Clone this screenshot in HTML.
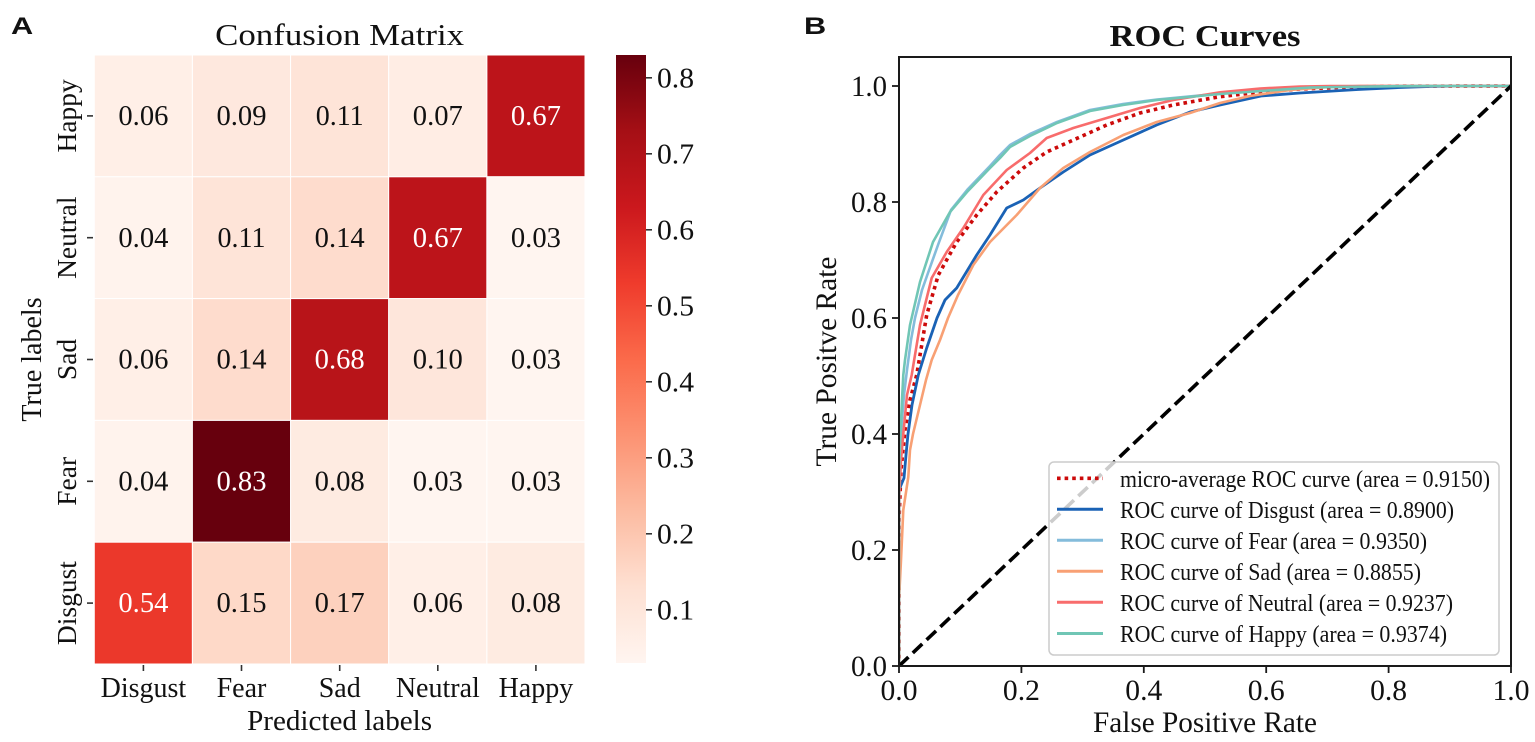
<!DOCTYPE html>
<html>
<head>
<meta charset="utf-8">
<style>
  html, body { margin: 0; padding: 0; background: #ffffff; }
  svg { display: block; }
  text { font-family: "Liberation Serif", "Times New Roman", serif; fill: #111; }
  .sans { font-family: "Liberation Sans", Arial, sans-serif; font-weight: bold; }
</style>
</head>
<body>
<svg width="1535" height="742" viewBox="0 0 1535 742" xmlns="http://www.w3.org/2000/svg">
  <defs>
    <linearGradient id="reds" x1="0" y1="0" x2="0" y2="1">
      <stop offset="0" stop-color="#67000d"/>
      <stop offset="0.125" stop-color="#a50f15"/>
      <stop offset="0.25" stop-color="#cb181d"/>
      <stop offset="0.375" stop-color="#ef3b2c"/>
      <stop offset="0.5" stop-color="#fb6a4a"/>
      <stop offset="0.625" stop-color="#fc9272"/>
      <stop offset="0.75" stop-color="#fcbba1"/>
      <stop offset="0.875" stop-color="#fee0d2"/>
      <stop offset="1" stop-color="#fff5f0"/>
    </linearGradient>
    <clipPath id="axclip"><rect x="899" y="57" width="612" height="609"/></clipPath>
  </defs>

  <rect width="1535" height="742" fill="#ffffff"/>

  <!-- ===== Panel A ===== -->
  <text class="sans" transform="translate(11,34) scale(1.28,1)" font-size="24">A</text>
  <text x="339.6" y="45" font-size="31" text-anchor="middle" textLength="249" lengthAdjust="spacingAndGlyphs">Confusion Matrix</text>

  <g stroke="#ffffff" stroke-width="1">
    <rect x="94.3" y="55" width="98.1" height="121.8" fill="#ffefe7"/>
    <rect x="192.4" y="55" width="98.2" height="121.8" fill="#fee8de"/>
    <rect x="290.6" y="55" width="98.1" height="121.8" fill="#fee4d8"/>
    <rect x="388.7" y="55" width="98.2" height="121.8" fill="#ffede4"/>
    <rect x="486.9" y="55" width="98.1" height="121.8" fill="#bc141a"/>
    <rect x="94.3" y="176.8" width="98.1" height="121.8" fill="#fff3ed"/>
    <rect x="192.4" y="176.8" width="98.2" height="121.8" fill="#fee4d8"/>
    <rect x="290.6" y="176.8" width="98.1" height="121.8" fill="#fedccd"/>
    <rect x="388.7" y="176.8" width="98.2" height="121.8" fill="#bc141a"/>
    <rect x="486.9" y="176.8" width="98.1" height="121.8" fill="#fff5f0"/>
    <rect x="94.3" y="298.6" width="98.1" height="121.8" fill="#ffefe7"/>
    <rect x="192.4" y="298.6" width="98.2" height="121.8" fill="#fedccd"/>
    <rect x="290.6" y="298.6" width="98.1" height="121.8" fill="#b81419"/>
    <rect x="388.7" y="298.6" width="98.2" height="121.8" fill="#fee6db"/>
    <rect x="486.9" y="298.6" width="98.1" height="121.8" fill="#fff5f0"/>
    <rect x="94.3" y="420.4" width="98.1" height="121.8" fill="#fff3ed"/>
    <rect x="192.4" y="420.4" width="98.2" height="121.8" fill="#67000d"/>
    <rect x="290.6" y="420.4" width="98.1" height="121.8" fill="#feebe1"/>
    <rect x="388.7" y="420.4" width="98.2" height="121.8" fill="#fff5f0"/>
    <rect x="486.9" y="420.4" width="98.1" height="121.8" fill="#fff5f0"/>
    <rect x="94.3" y="542.2" width="98.1" height="121.8" fill="#eb382b"/>
    <rect x="192.4" y="542.2" width="98.2" height="121.8" fill="#fed9c8"/>
    <rect x="290.6" y="542.2" width="98.1" height="121.8" fill="#fdd1be"/>
    <rect x="388.7" y="542.2" width="98.2" height="121.8" fill="#ffefe7"/>
    <rect x="486.9" y="542.2" width="98.1" height="121.8" fill="#feebe1"/>
  </g>

  <g font-size="28" text-anchor="middle">
    <text x="143.4" y="125" textLength="50" lengthAdjust="spacingAndGlyphs">0.06</text>
    <text x="241.5" y="125" textLength="50" lengthAdjust="spacingAndGlyphs">0.09</text>
    <text x="339.7" y="125" textLength="48" lengthAdjust="spacingAndGlyphs">0.11</text>
    <text x="437.8" y="125" textLength="50" lengthAdjust="spacingAndGlyphs">0.07</text>
    <text x="535.9" y="125" textLength="50" lengthAdjust="spacingAndGlyphs" style="fill:#ffffff">0.67</text>

    <text x="143.4" y="246.8" textLength="50" lengthAdjust="spacingAndGlyphs">0.04</text>
    <text x="241.5" y="246.8" textLength="48" lengthAdjust="spacingAndGlyphs">0.11</text>
    <text x="339.7" y="246.8" textLength="50" lengthAdjust="spacingAndGlyphs">0.14</text>
    <text x="437.8" y="246.8" textLength="50" lengthAdjust="spacingAndGlyphs" style="fill:#ffffff">0.67</text>
    <text x="535.9" y="246.8" textLength="50" lengthAdjust="spacingAndGlyphs">0.03</text>

    <text x="143.4" y="368.6" textLength="50" lengthAdjust="spacingAndGlyphs">0.06</text>
    <text x="241.5" y="368.6" textLength="50" lengthAdjust="spacingAndGlyphs">0.14</text>
    <text x="339.7" y="368.6" textLength="50" lengthAdjust="spacingAndGlyphs" style="fill:#ffffff">0.68</text>
    <text x="437.8" y="368.6" textLength="50" lengthAdjust="spacingAndGlyphs">0.10</text>
    <text x="535.9" y="368.6" textLength="50" lengthAdjust="spacingAndGlyphs">0.03</text>

    <text x="143.4" y="490.4" textLength="50" lengthAdjust="spacingAndGlyphs">0.04</text>
    <text x="241.5" y="490.4" textLength="50" lengthAdjust="spacingAndGlyphs" style="fill:#ffffff">0.83</text>
    <text x="339.7" y="490.4" textLength="50" lengthAdjust="spacingAndGlyphs">0.08</text>
    <text x="437.8" y="490.4" textLength="50" lengthAdjust="spacingAndGlyphs">0.03</text>
    <text x="535.9" y="490.4" textLength="50" lengthAdjust="spacingAndGlyphs">0.03</text>

    <text x="143.4" y="612.2" textLength="50" lengthAdjust="spacingAndGlyphs" style="fill:#ffffff">0.54</text>
    <text x="241.5" y="612.2" textLength="50" lengthAdjust="spacingAndGlyphs">0.15</text>
    <text x="339.7" y="612.2" textLength="50" lengthAdjust="spacingAndGlyphs">0.17</text>
    <text x="437.8" y="612.2" textLength="50" lengthAdjust="spacingAndGlyphs">0.06</text>
    <text x="535.9" y="612.2" textLength="50" lengthAdjust="spacingAndGlyphs">0.08</text>
  </g>

  <g stroke="#333" stroke-width="1.6">
    <line x1="87" y1="115.9" x2="93" y2="115.9"/>
    <line x1="87" y1="237.7" x2="93" y2="237.7"/>
    <line x1="87" y1="359.5" x2="93" y2="359.5"/>
    <line x1="87" y1="481.3" x2="93" y2="481.3"/>
    <line x1="87" y1="603.1" x2="93" y2="603.1"/>
    <line x1="143.4" y1="665" x2="143.4" y2="671"/>
    <line x1="241.5" y1="665" x2="241.5" y2="671"/>
    <line x1="339.7" y1="665" x2="339.7" y2="671"/>
    <line x1="437.8" y1="665" x2="437.8" y2="671"/>
    <line x1="535.9" y1="665" x2="535.9" y2="671"/>
  </g>
  <g font-size="27.5" text-anchor="middle">
    <text transform="translate(76,115.9) rotate(-90)">Happy</text>
    <text transform="translate(76,237.7) rotate(-90)">Neutral</text>
    <text transform="translate(76,359.5) rotate(-90)">Sad</text>
    <text transform="translate(76,481.3) rotate(-90)">Fear</text>
    <text transform="translate(76,603.1) rotate(-90)">Disgust</text>
  </g>
  <g font-size="28" text-anchor="middle">
    <text x="143.4" y="697">Disgust</text>
    <text x="241.5" y="697">Fear</text>
    <text x="339.7" y="697">Sad</text>
    <text x="437.8" y="697">Neutral</text>
    <text x="535.9" y="697">Happy</text>
  </g>
  <text x="339.6" y="730" font-size="28" text-anchor="middle" textLength="185" lengthAdjust="spacingAndGlyphs">Predicted labels</text>
  <text transform="translate(41,359.5) rotate(-90)" font-size="28" text-anchor="middle">True labels</text>

  <rect x="616" y="55" width="30" height="608" fill="url(#reds)"/>
  <g stroke="#333" stroke-width="1.6">
    <line x1="646" y1="77.8" x2="652" y2="77.8"/>
    <line x1="646" y1="153.8" x2="652" y2="153.8"/>
    <line x1="646" y1="229.8" x2="652" y2="229.8"/>
    <line x1="646" y1="305.8" x2="652" y2="305.8"/>
    <line x1="646" y1="381.8" x2="652" y2="381.8"/>
    <line x1="646" y1="457.8" x2="652" y2="457.8"/>
    <line x1="646" y1="533.8" x2="652" y2="533.8"/>
    <line x1="646" y1="609.8" x2="652" y2="609.8"/>
  </g>
  <g font-size="28">
    <text x="657" y="87.6" textLength="37" lengthAdjust="spacingAndGlyphs">0.8</text>
    <text x="657" y="163.6" textLength="37" lengthAdjust="spacingAndGlyphs">0.7</text>
    <text x="657" y="239.6" textLength="37" lengthAdjust="spacingAndGlyphs">0.6</text>
    <text x="657" y="315.6" textLength="37" lengthAdjust="spacingAndGlyphs">0.5</text>
    <text x="657" y="391.6" textLength="37" lengthAdjust="spacingAndGlyphs">0.4</text>
    <text x="657" y="467.6" textLength="37" lengthAdjust="spacingAndGlyphs">0.3</text>
    <text x="657" y="543.6" textLength="37" lengthAdjust="spacingAndGlyphs">0.2</text>
    <text x="657" y="619.6" textLength="37" lengthAdjust="spacingAndGlyphs">0.1</text>
  </g>

  <!-- ===== Panel B ===== -->
  <text class="sans" transform="translate(804,34) scale(1.28,1)" font-size="24">B</text>
  <text x="1205" y="46" font-size="31" font-weight="bold" text-anchor="middle" textLength="191" lengthAdjust="spacingAndGlyphs">ROC Curves</text>

  <g clip-path="url(#axclip)" fill="none" stroke-linejoin="round" stroke-linecap="butt">
    <path stroke="#cc0a0a" stroke-width="3.6" stroke-dasharray="3.6 4" d="M899,666 L899,520 L901,470 L905,430 L910,400 L916.7,375 L926.7,315 L938.3,275 L956.7,242 L976.7,215 L996.7,192 L1023.3,168 L1046.7,152 L1073.3,140 L1106.7,125 L1140,113 L1173.3,105 L1220,96.7 L1260,92 L1300,89 L1350,87 L1400,86.2 L1511,86"/>
    <path stroke="#1a62b5" stroke-width="2.8" d="M899,666 L899,490 L904,478 L906,455 L908,434 L912,405 L918.3,375 L926.7,348 L937,318 L945,300 L956.7,288 L976.7,255 L990,235 L1006.7,208 L1023.3,200 L1040,188 L1063.3,172 L1090,155 L1123.3,140 L1156.7,125 L1190,112 L1220,105 L1261,96 L1300,93 L1358,89.5 L1400,87.5 L1430,86.5 L1460,86 L1511,86"/>
    <path stroke="#84bcdb" stroke-width="2.6" d="M899,666 L899,490 L900.5,450 L902,420 L904,395 L907,370 L911,340 L915,318 L922,290 L928,273 L938,245 L951,210 L968,189 L990,166 L1000,155 L1010,145 L1030,134 L1057,122 L1090,110 L1123,104 L1157,99.5 L1220,93.5 L1262,90 L1310,87.5 L1370,86.5 L1420,86 L1511,86"/>
    <path stroke="#f8a074" stroke-width="2.6" d="M899,666 L899,600 L901,560 L903.3,510 L908.3,477 L910,450 L913,434 L920,405 L926,380 L931.7,360 L940,340 L948,318 L958,295 L973.3,265 L990,242 L1016.7,215 L1040,188 L1063.3,168 L1090,152 L1123.3,135 L1156.7,122 L1190,113 L1220,103 L1250,96 L1290,90 L1330,87 L1360,86 L1511,86"/>
    <path stroke="#f86c6c" stroke-width="2.6" d="M899,666 L899,500 L901,460 L903.3,434 L907,395 L911.7,375 L915,355 L920,325 L931.7,278 L946.7,252 L963.3,228 L983.3,195 L1006.7,170 L1030,153 L1046.7,138 L1073.3,128 L1106.7,118 L1140,108 L1173.3,100 L1220,92.3 L1260,88.5 L1300,86.5 L1330,86 L1511,86"/>
    <path stroke="#70c6b5" stroke-width="2.6" d="M899,666 L899,470 L900.5,434 L902,400 L903.3,375 L905,360 L910,325 L920,282 L933,242 L950,212 L967,192 L990,168 L1000,158 L1010,147 L1030,136 L1057,123 L1090,111 L1123,105 L1157,100 L1220,94 L1262,91 L1310,87.5 L1370,86.5 L1420,86 L1511,86"/>
    <line x1="899" y1="666" x2="1511" y2="86" stroke="#000" stroke-width="3.6" stroke-dasharray="13 6"/>
  </g>

  <rect x="899" y="57" width="612" height="609" fill="none" stroke="#1a1a1a" stroke-width="2"/>

  <g stroke="#1a1a1a" stroke-width="1.8">
    <line x1="892" y1="86" x2="899" y2="86"/>
    <line x1="892" y1="202" x2="899" y2="202"/>
    <line x1="892" y1="318" x2="899" y2="318"/>
    <line x1="892" y1="434" x2="899" y2="434"/>
    <line x1="892" y1="550" x2="899" y2="550"/>
    <line x1="892" y1="666" x2="899" y2="666"/>
    <line x1="899" y1="666" x2="899" y2="673"/>
    <line x1="1021.4" y1="666" x2="1021.4" y2="673"/>
    <line x1="1143.8" y1="666" x2="1143.8" y2="673"/>
    <line x1="1266.2" y1="666" x2="1266.2" y2="673"/>
    <line x1="1388.6" y1="666" x2="1388.6" y2="673"/>
    <line x1="1511" y1="666" x2="1511" y2="673"/>
  </g>
  <g font-size="29.5" text-anchor="end">
    <text x="887" y="96" textLength="36" lengthAdjust="spacingAndGlyphs">1.0</text>
    <text x="887" y="212" textLength="36" lengthAdjust="spacingAndGlyphs">0.8</text>
    <text x="887" y="328" textLength="36" lengthAdjust="spacingAndGlyphs">0.6</text>
    <text x="887" y="444" textLength="36" lengthAdjust="spacingAndGlyphs">0.4</text>
    <text x="887" y="560" textLength="36" lengthAdjust="spacingAndGlyphs">0.2</text>
    <text x="887" y="676" textLength="36" lengthAdjust="spacingAndGlyphs">0.0</text>
  </g>
  <g font-size="29.5" text-anchor="middle">
    <text x="899" y="700" textLength="37" lengthAdjust="spacingAndGlyphs">0.0</text>
    <text x="1021.4" y="700" textLength="37" lengthAdjust="spacingAndGlyphs">0.2</text>
    <text x="1143.8" y="700" textLength="37" lengthAdjust="spacingAndGlyphs">0.4</text>
    <text x="1266.2" y="700" textLength="37" lengthAdjust="spacingAndGlyphs">0.6</text>
    <text x="1388.6" y="700" textLength="37" lengthAdjust="spacingAndGlyphs">0.8</text>
    <text x="1511" y="700" textLength="37" lengthAdjust="spacingAndGlyphs">1.0</text>
  </g>
  <text x="1205" y="732" font-size="29.5" text-anchor="middle" textLength="224" lengthAdjust="spacingAndGlyphs">False Positive Rate</text>
  <text transform="translate(836,361.5) rotate(-90)" font-size="29.5" text-anchor="middle" textLength="210" lengthAdjust="spacingAndGlyphs">True Positve Rate</text>

  <rect x="1049" y="462" width="450" height="193" rx="5" ry="5" fill="#ffffff" fill-opacity="0.8" stroke="#cccccc" stroke-width="1.5"/>
  <g stroke-width="3">
    <line x1="1057" y1="478.3" x2="1103" y2="478.3" stroke="#cc0a0a" stroke-width="3.6" stroke-dasharray="3.6 4"/>
    <line x1="1057" y1="509.3" x2="1103" y2="509.3" stroke="#1a62b5"/>
    <line x1="1057" y1="540.3" x2="1103" y2="540.3" stroke="#84bcdb"/>
    <line x1="1057" y1="571.3" x2="1103" y2="571.3" stroke="#f8a074"/>
    <line x1="1057" y1="602.3" x2="1103" y2="602.3" stroke="#f86c6c"/>
    <line x1="1057" y1="633.5" x2="1103" y2="633.5" stroke="#70c6b5"/>
  </g>
  <g font-size="24">
    <text x="1120" y="486.8" textLength="370" lengthAdjust="spacingAndGlyphs">micro-average ROC curve (area = 0.9150)</text>
    <text x="1120" y="517.8" textLength="334" lengthAdjust="spacingAndGlyphs">ROC curve of Disgust (area = 0.8900)</text>
    <text x="1120" y="548.8" textLength="307" lengthAdjust="spacingAndGlyphs">ROC curve of Fear (area = 0.9350)</text>
    <text x="1120" y="579.8" textLength="301" lengthAdjust="spacingAndGlyphs">ROC curve of Sad (area = 0.8855)</text>
    <text x="1120" y="610.8" textLength="333" lengthAdjust="spacingAndGlyphs">ROC curve of Neutral (area = 0.9237)</text>
    <text x="1120" y="642" textLength="327" lengthAdjust="spacingAndGlyphs">ROC curve of Happy (area = 0.9374)</text>
  </g>
</svg>
</body>
</html>
